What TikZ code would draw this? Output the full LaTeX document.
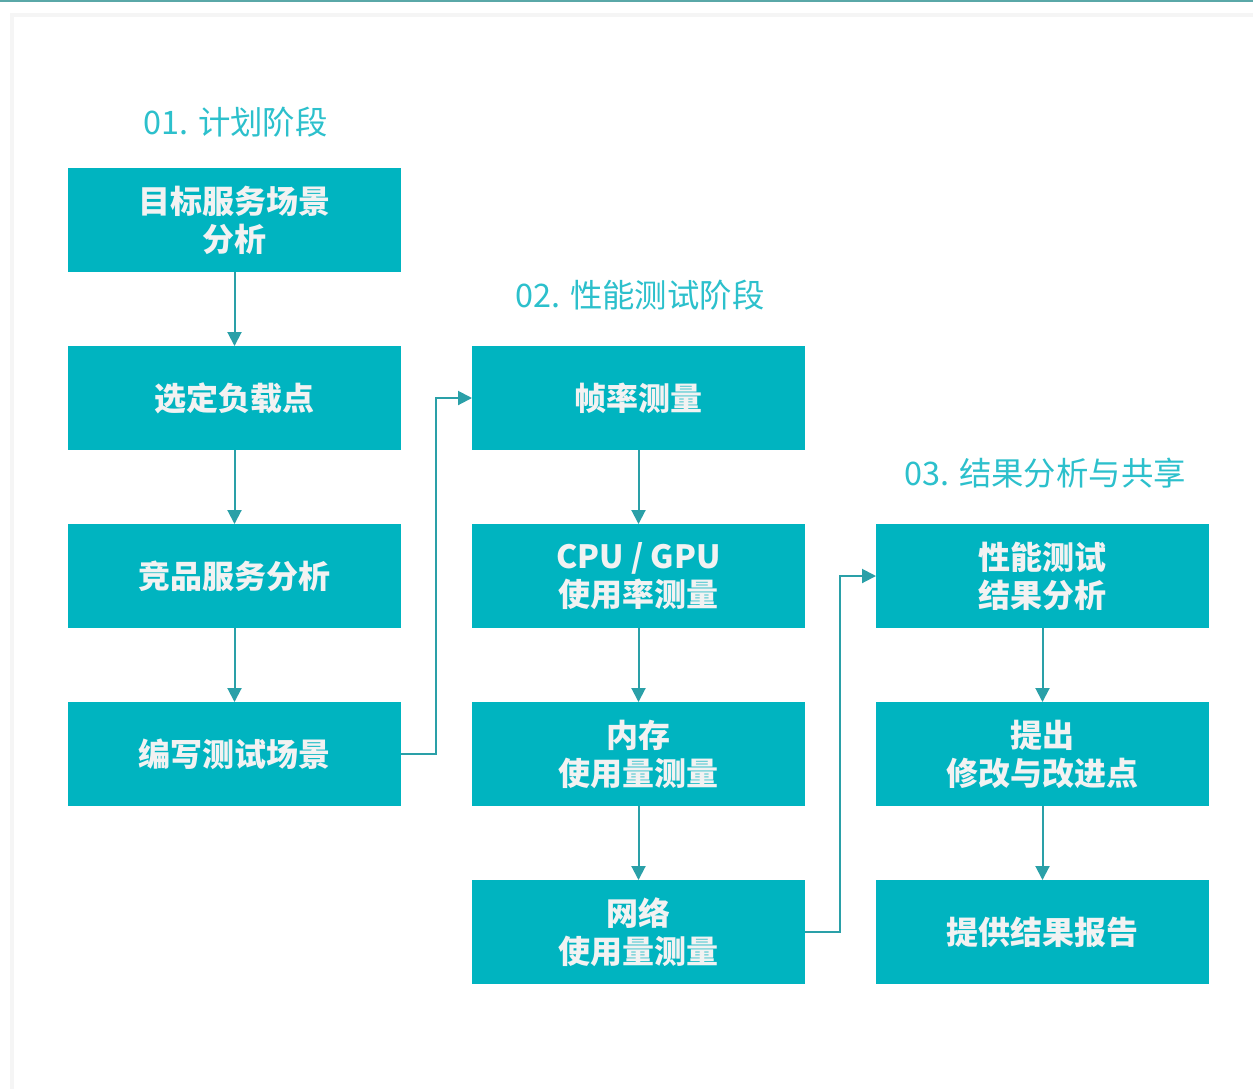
\documentclass[tikz,border=0pt]{standalone}
\usepackage{fontspec}
\setmainfont{Noto Sans CJK SC}
\usepackage{tikz}
\usetikzlibrary{arrows.meta,positioning}
\definecolor{boxcyan}{HTML}{00B4C0}
\definecolor{linecyan}{HTML}{2AA0A8}
\definecolor{titlecyan}{HTML}{2CC0CC}
\definecolor{framecyan}{HTML}{5AA8A8}

\begin{document}
\begin{tikzpicture}[
    x=0.5pt, y=-0.5pt,
    node distance=37pt and 35.5pt,
    stage/.style={rectangle, fill=boxcyan, text=white!95!black, minimum width=166.5pt, minimum height=52pt, inner sep=0pt, outer sep=0pt, align=center, font=\bfseries\fontsize{16}{19}\selectfont},
    phase/.style={anchor=west, text=titlecyan, inner sep=0pt, font=\fontsize{16.2}{18}\selectfont},
    line/.style={draw=linecyan, line width=1pt, -{Triangle[length=7pt,width=7pt]}}
]
    \useasboundingbox (0,0) rectangle (1253,1089);
    \fill [black!4] (10,13) rectangle (1253,1089);
    \fill [white] (14,17) rectangle (1253,1089);
    \draw [framecyan, line width=1pt] (0,1) -- (1253,1);

    % 01
    \node [phase] (plan) at (143,122) {01. 计划阶段};
    \node [stage] (goal) at (234.5,220) {目标服务场景\\分析};
    \node [stage, below=of goal] (load) {选定负载点};
    \node [stage, below=of load] (rival) {竞品服务分析};
    \node [stage, below=of rival] (write) {编写测试场景};

    % 02
    \node [phase] (perf) at (515,295) {02. 性能测试阶段};
    \node [stage, right=of load] (fps) {帧率测量};
    \node [stage, below=of fps] (cpu) {CPU / GPU\\使用率测量};
    \node [stage, below=of cpu] (mem) {内存\\使用量测量};
    \node [stage, below=of mem] (net) {网络\\使用量测量};

    % 03
    \node [phase] (share) at (904,473) {03. 结果分析与共享};
    \node [stage, right=of cpu] (result) {性能测试\\结果分析};
    \node [stage, below=of result] (improve) {提出\\修改与改进点};
    \node [stage, below=of improve] (report) {提供结果报告};

    \foreach \a/\b in {goal/load, load/rival, rival/write, fps/cpu, cpu/mem, mem/net, result/improve, improve/report} {
        \draw [line] (\a) -- (\b);
    }
    \draw [line] (write.east) -- ++(35,0) |- (fps.west);
    \draw [line] (net.east) -- ++(35,0) |- (result.west);
\end{tikzpicture}
\end{document}
